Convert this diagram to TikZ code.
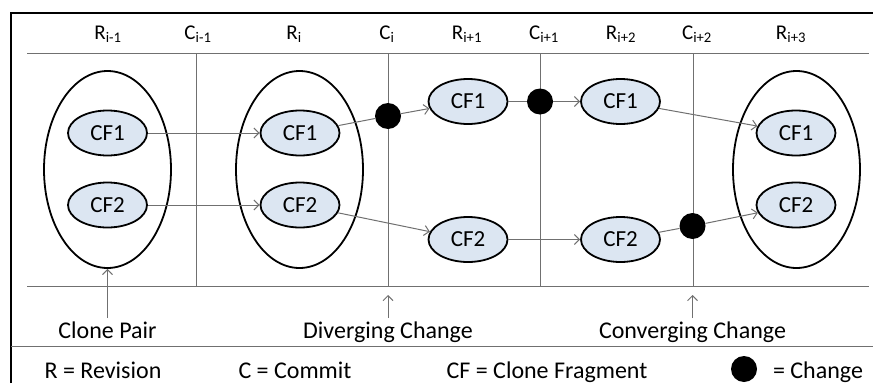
\documentclass[tikz,border=0pt]{standalone}
\usepackage{fontspec}
\setmainfont{Carlito}
\usetikzlibrary{shapes.geometric}
\usetikzlibrary{arrows.meta}
\definecolor{cfblue}{RGB}{220,230,242}
\definecolor{rulegray}{RGB}{112,112,112}

\begin{document}
\begin{tikzpicture}[x=1pt,y=-1pt,
        revision/.style={ellipse, draw=black, line width=1.8pt, minimum width=127pt, minimum height=197pt, inner sep=0pt},
        frag/.style={ellipse, draw=black, line width=1.8pt, fill=cfblue, minimum width=79pt, minimum height=45pt, inner sep=0pt, font=\fontsize{23}{27}\selectfont},
        change/.style={circle, fill=black, minimum size=26pt, inner sep=0pt},
        link/.style={draw=rulegray, line width=1pt},
        head/.style={anchor=base, font=\fontsize{21}{25}\selectfont},
        note/.style={anchor=base, font=\fontsize{24}{28}\selectfont},
        >={Straight Barb[length=5pt,width=10pt]}]

        \useasboundingbox (0,0) rectangle (873,383);

        % frame and grid
        \draw [line width=2.6pt] (11,383) -- (11,13) -- (873,13);
        \draw [link] (11,346) -- (873,346);
        \draw [link] (27,53) -- (869,53);
        \draw [link] (27,286) -- (869,286);
        \foreach \x in {196,388,540,693}
            \draw [link] (\x,53) -- (\x,286);

        % revisions and commits
        \node[head] (hr0) at (108,39.5) {R\textsubscript{i-1}};
        \node[head] (hc0) at (198,39.5) {C\textsubscript{i-1}};
        \node[head] (hr1) at (294,39.5) {R\textsubscript{i}};
        \node[head] (hc1) at (387,39.5) {C\textsubscript{i}};
        \node[head] (hr2) at (467,39.5) {R\textsubscript{i+1}};
        \node[head] (hc2) at (544,39.5) {C\textsubscript{i+1}};
        \node[head] (hr3) at (621,39.5) {R\textsubscript{i+2}};
        \node[head] (hc3) at (697,39.5) {C\textsubscript{i+2}};
        \node[head] (hr4) at (791,39.5) {R\textsubscript{i+3}};

        % clone pairs
        \node[revision] (pair0) at (107.5,169.5) {};
        \node[revision] (pair1) at (299.5,169.5) {};
        \node[revision] (pair4) at (796.5,169.5) {};

        % clone fragments
        \node[frag] (a0) at (107.5,133) {CF1};
        \node[frag] (b0) at (107.5,205) {CF2};
        \node[frag] (a1) at (300,133) {CF1};
        \node[frag] (b1) at (300,205) {CF2};
        \node[frag] (a2) at (468,101.5) {CF1};
        \node[frag] (b2) at (468,239.5) {CF2};
        \node[frag] (a3) at (620.5,101.5) {CF1};
        \node[frag] (b3) at (620.5,239.5) {CF2};
        \node[frag] (a4) at (796,133) {CF1};
        \node[frag] (b4) at (796,205) {CF2};

        % changes
        \node[change] (d1) at (388,116) {};
        \node[change] (d2) at (540,101.5) {};
        \node[change] (d3) at (692.5,226) {};

        \draw [link,->] (a0) -- (a1);
        \draw [link,->] (b0) -- (b1);
        \draw [link] (a1) -- (d1);
        \draw [link,->] (d1) -- (a2);
        \draw [link,->] (b1) -- (b2);
        \draw [link] (a2) -- (d2);
        \draw [link,->] (d2) -- (a3);
        \draw [link,->] (b2) -- (b3);
        \draw [link,->] (a3) -- (a4);
        \draw [link] (b3) -- (d3);
        \draw [link,->] (d3) -- (b4);

        % notes below
        \node[note] (pairnote) at (107.5,338.3) {Clone Pair};
        \node[note] (divnote) at (388,338.3) {Diverging Change};
        \node[note] (convnote) at (692.5,338.3) {Converging Change};
        \coordinate (divtip) at (388,295);
        \coordinate (convtip) at (692.5,295);
        \draw [link,->] (pairnote) -- (pair0);
        \draw [link,->] (divnote) -- (divtip);
        \draw [link,->] (convnote) -- (convtip);

        % legend
        \node[note] (keyr) at (103,378.3) {R = Revision};
        \node[note] (keyc) at (295,378.3) {C = Commit};
        \node[note] (keycf) at (547,378.3) {CF = Clone Fragment};
        \node[change] (keyd) at (744,369) {};
        \node[note] (keychg) at (818,378.3) {= Change};

\end{tikzpicture}
\end{document}
